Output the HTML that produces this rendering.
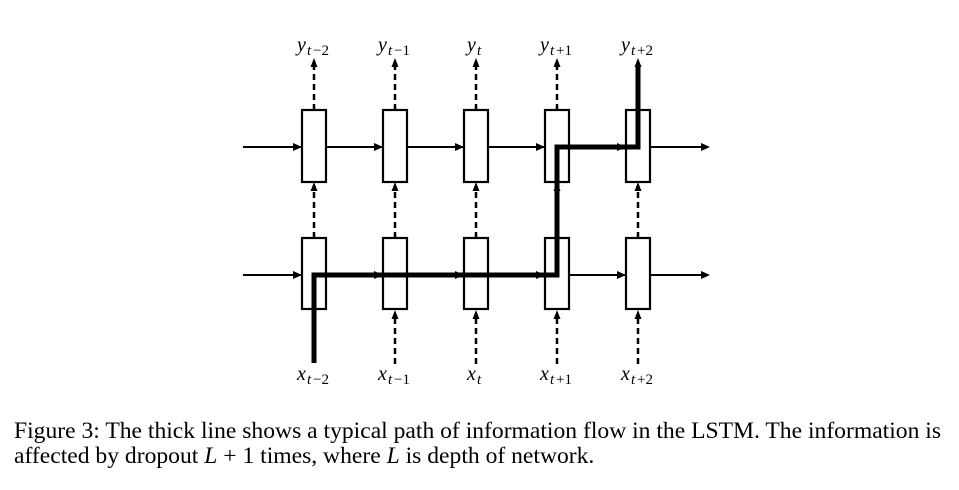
<!DOCTYPE html>
<html><head><meta charset="utf-8"><style>
html,body{margin:0;padding:0;background:#fff;width:959px;height:490px;overflow:hidden}
svg{position:absolute;left:0;top:0}
.lab{font-family:"Liberation Serif",serif;font-style:italic;font-size:20px}
.sub{font-family:"Liberation Serif",serif;font-size:15px}
.cap{position:absolute;left:14px;top:419px;font-family:"Liberation Serif",serif;font-size:23.6px;line-height:25px;color:#000;white-space:nowrap}
</style></head><body>
<svg width="959" height="490" viewBox="0 0 959 490">
<g stroke="#000" stroke-width="2" fill="none">
<line x1="243" y1="147" x2="704" y2="147"/>
<line x1="243" y1="275" x2="704" y2="275"/>
</g>
<g fill="#000">
<path d="M293,143 L302,147 L293,151Z"/><path d="M374,143 L383,147 L374,151Z"/><path d="M455,143 L464,147 L455,151Z"/><path d="M536,143 L545,147 L536,151Z"/><path d="M617,143 L626,147 L617,151Z"/><path d="M701,143 L710,147 L701,151Z"/>
<path d="M293,271 L302,275 L293,279Z"/><path d="M374,271 L383,275 L374,279Z"/><path d="M455,271 L464,275 L455,279Z"/><path d="M536,271 L545,275 L536,279Z"/><path d="M617,271 L626,275 L617,279Z"/><path d="M701,271 L710,275 L701,279Z"/>
</g>
<g stroke="#000" stroke-width="2.2" fill="#fff">
<rect x="302" y="110" width="24" height="72"/><rect x="383" y="110" width="24" height="72"/><rect x="464" y="110" width="24" height="72"/><rect x="545" y="110" width="24" height="72"/><rect x="626" y="110" width="24" height="72"/>
<rect x="302" y="238" width="24" height="71"/><rect x="383" y="238" width="24" height="71"/><rect x="464" y="238" width="24" height="71"/><rect x="545" y="238" width="24" height="71"/><rect x="626" y="238" width="24" height="71"/>
</g>
<g stroke="#000" stroke-width="2.5" stroke-dasharray="6,4" fill="none">
<line x1="314" y1="110" x2="314" y2="66"/><line x1="395" y1="110" x2="395" y2="66"/><line x1="476" y1="110" x2="476" y2="66"/><line x1="557" y1="110" x2="557" y2="66"/>
<line x1="314" y1="238" x2="314" y2="189"/><line x1="395" y1="238" x2="395" y2="189"/><line x1="476" y1="238" x2="476" y2="189"/><line x1="557" y1="238" x2="557" y2="189"/><line x1="638" y1="238" x2="638" y2="189"/>
<line x1="395" y1="364" x2="395" y2="317"/><line x1="476" y1="364" x2="476" y2="317"/><line x1="557" y1="364" x2="557" y2="317"/><line x1="638" y1="364" x2="638" y2="317"/>
</g>
<g fill="#000">
<path d="M310.5,67 L314,58 L317.5,67Z"/><path d="M391.5,67 L395,58 L398.5,67Z"/><path d="M472.5,67 L476,58 L479.5,67Z"/><path d="M553.5,67 L557,58 L560.5,67Z"/><path d="M634.5,67 L638,58 L641.5,67Z"/>
<path d="M310.5,191 L314,182 L317.5,191Z"/><path d="M391.5,191 L395,182 L398.5,191Z"/><path d="M472.5,191 L476,182 L479.5,191Z"/><path d="M553.5,191 L557,182 L560.5,191Z"/><path d="M634.5,191 L638,182 L641.5,191Z"/>
<path d="M391.5,319 L395,310 L398.5,319Z"/><path d="M472.5,319 L476,310 L479.5,319Z"/><path d="M553.5,319 L557,310 L560.5,319Z"/><path d="M634.5,319 L638,310 L641.5,319Z"/>
</g>
<path d="M314,363 L314,275 L557,275 L557,147 L638,147 L638,64" stroke="#000" stroke-width="5" fill="none" stroke-linejoin="miter"/>
<g>
<text x="297" y="51" class="lab">y</text><text x="307" y="55" class="sub" font-style="italic">t</text><text x="313" y="55" class="sub">−2</text>
<text x="378" y="51" class="lab">y</text><text x="388" y="55" class="sub" font-style="italic">t</text><text x="394" y="55" class="sub">−1</text>
<text x="467" y="51" class="lab">y</text><text x="477" y="55" class="sub" font-style="italic">t</text>
<text x="540" y="51" class="lab">y</text><text x="550" y="55" class="sub" font-style="italic">t</text><text x="556" y="55" class="sub">+1</text>
<text x="621" y="51" class="lab">y</text><text x="631" y="55" class="sub" font-style="italic">t</text><text x="637" y="55" class="sub">+2</text>
<text x="297" y="380" class="lab">x</text><text x="307" y="384" class="sub" font-style="italic">t</text><text x="313" y="384" class="sub">−2</text>
<text x="378" y="380" class="lab">x</text><text x="388" y="384" class="sub" font-style="italic">t</text><text x="394" y="384" class="sub">−1</text>
<text x="467" y="380" class="lab">x</text><text x="477" y="384" class="sub" font-style="italic">t</text>
<text x="540" y="380" class="lab">x</text><text x="550" y="384" class="sub" font-style="italic">t</text><text x="556" y="384" class="sub">+1</text>
<text x="621" y="380" class="lab">x</text><text x="631" y="384" class="sub" font-style="italic">t</text><text x="637" y="384" class="sub">+2</text>
</g>
</svg>
<div class="cap">Figure 3: The thick line shows a typical path of information flow in the LSTM. The information is<br>affected by dropout <i>L</i> + 1 times, where <i>L</i> is depth of network.</div>
</body></html>
